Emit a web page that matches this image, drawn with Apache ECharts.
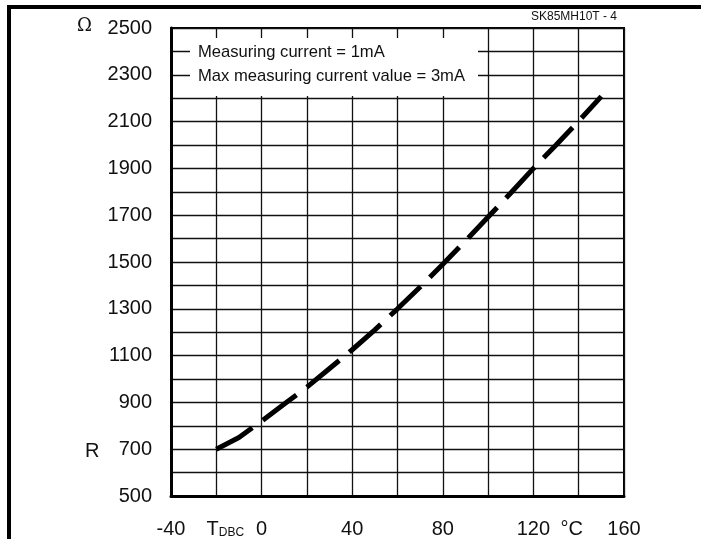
<!DOCTYPE html>
<html>
<head>
<meta charset="utf-8">
<script src="https://cdn.jsdelivr.net/npm/echarts@6/dist/echarts.min.js"></script>
<style>
html,body{margin:0;padding:0;background:#fff;}
#c{width:701px;height:539px;}
</style>
</head>
<body>
<div id="c"></div>
<script>
// Temperature (°C) and resistance (Ω)
const temps = [-20, -10, 0, 10, 20, 30, 40, 50, 60, 70, 80, 90, 100, 110, 120, 130, 140, 150];
const resist = [700, 750, 820, 893, 965, 1045, 1125, 1210, 1300, 1393, 1490, 1590, 1692, 1795, 1900, 2000, 2102, 2208];
const yTickLabels = [500, 700, 900, 1100, 1300, 1500, 1700, 1900, 2100, 2300, 2500];
const xTickLabels = {'-40': '-40', '-20': '{t|T}{s|DBC}', '0': '0', '40': '40', '80': '80', '120': '120', '140': '{c|°C}', '160': '160'};
const legendLines = ['Measuring current = 1mA', 'Max measuring current value = 3mA'];
const codeLabel = 'SK85MH10T - 4';

const FONT = 'Liberation Sans, Arial, sans-serif';
const chart = echarts.init(document.getElementById('c'), null, {renderer: 'canvas'});
chart.setOption({
  animation: false,
  backgroundColor: '#fff',
  grid: {left: 171, right: 77, top: 28, bottom: 39, show: true, borderColor: '#000', borderWidth: 2, backgroundColor: 'transparent'},
  title: {
    text: legendLines.join('\n'),
    left: 190, top: 38,
    backgroundColor: '#fff',
    padding: [2, 13, 8, 8],
    textStyle: {fontFamily: FONT, fontSize: 16.6, fontWeight: 'normal', color: '#111', lineHeight: 24}
  },
  xAxis: {
    type: 'value', min: -40, max: 160, interval: 20,
    axisLine: {show: true, onZero: false, lineStyle: {color: '#000', width: 3}},
    axisTick: {show: false},
    splitLine: {show: true, lineStyle: {color: '#111', width: 1.3}},
    axisLabel: {
      margin: 23, fontFamily: FONT, fontSize: 20, color: '#111',
      formatter: v => xTickLabels[String(v)] || '',
      rich: {
        t: {fontFamily: FONT, fontSize: 20, color: '#111', padding: [0, 0, 0, 18]},
        s: {fontFamily: FONT, fontSize: 12, color: '#111', padding: [8, 0, 0, 0]},
        c: {fontFamily: FONT, fontSize: 20, color: '#111', padding: [0, 14, 0, 0]}
      }
    }
  },
  yAxis: {
    type: 'value', min: 500, max: 2500, interval: 100,
    axisLine: {show: true, onZero: false, lineStyle: {color: '#000', width: 3}},
    axisTick: {show: false},
    splitLine: {show: true, lineStyle: {color: '#111', width: 1.3}},
    axisLabel: {
      margin: 19, fontFamily: FONT, fontSize: 20, color: '#111',
      formatter: v => yTickLabels.includes(v) ? String(v) : ''
    }
  },
  series: [{
    type: 'line',
    data: temps.map((t, i) => [t, resist[i]]),
    symbol: 'none',
    z: 3,
    lineStyle: {color: '#000', width: 5, type: [42, 13], cap: 'butt'}
  }],
  graphic: [
    {type: 'rect', shape: {x: 9, y: 7, width: 900, height: 700}, style: {fill: 'none', stroke: '#000', lineWidth: 4}, z: 100},
    {type: 'text', x: 77, y: 17, style: {text: 'Ω', font: '18px "DejaVu Serif", "Liberation Serif", serif', fill: '#111'}},
    {type: 'text', x: 85, y: 441, style: {text: 'R', font: '20px ' + FONT, fill: '#111'}},
    {type: 'text', x: 617, y: 11, style: {text: codeLabel, font: '12px ' + FONT, fill: '#111', textAlign: 'right'}}
  ]
});
</script>
</body>
</html>
